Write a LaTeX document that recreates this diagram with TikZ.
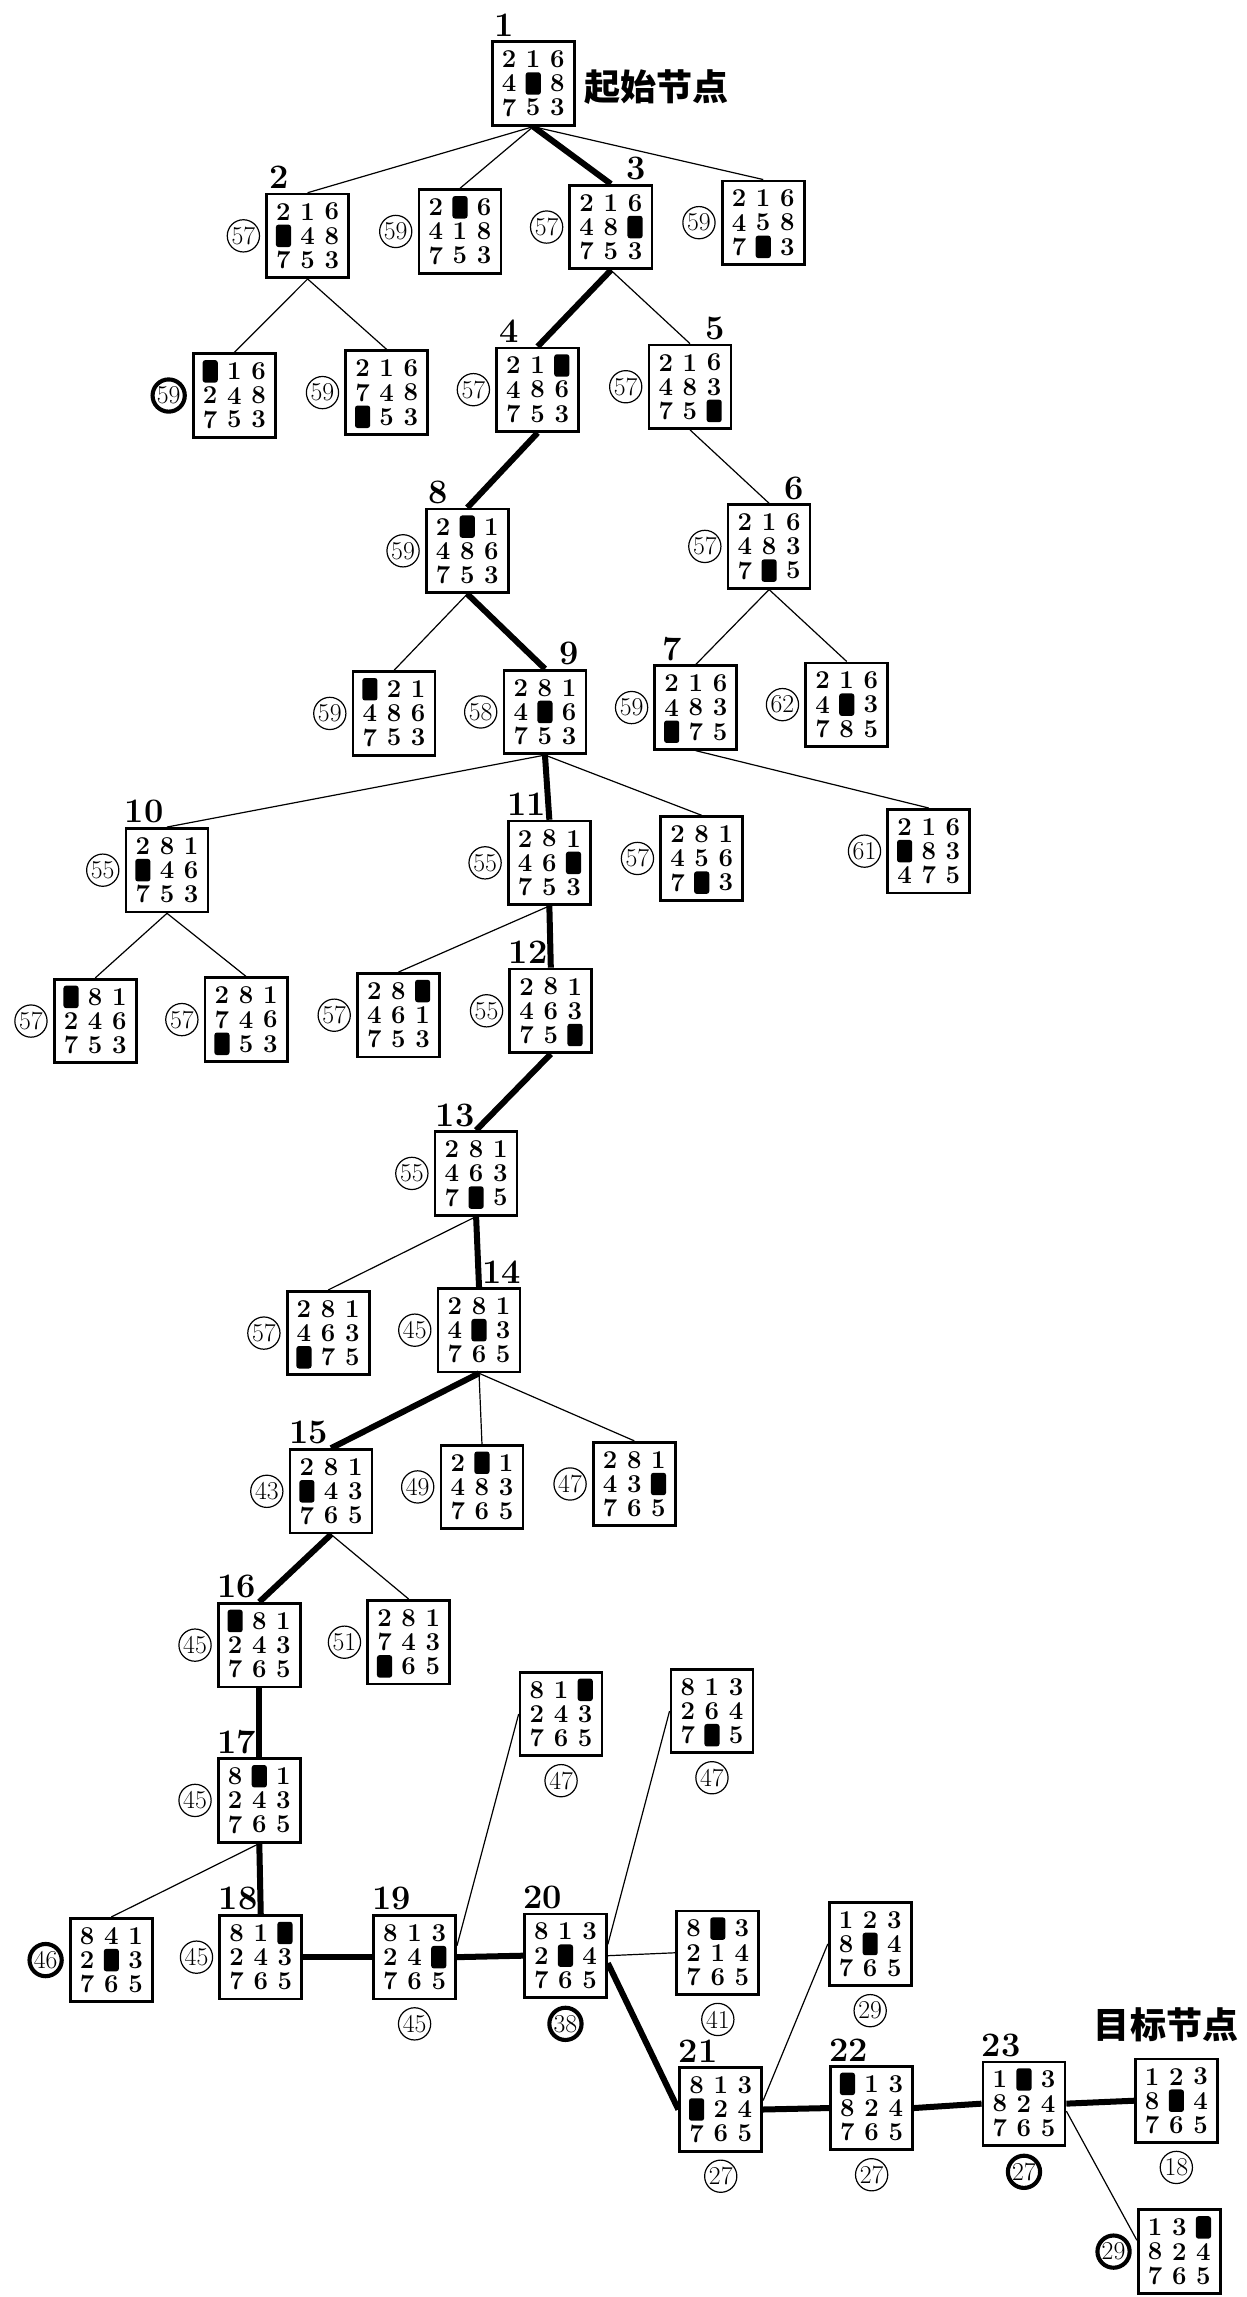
\documentclass[tikz,border=0pt]{standalone}
\usepackage{fontspec}
\newfontfamily\cjk{Noto Sans CJK SC}
\usetikzlibrary{positioning,calc}

\tikzset{
  board/.style={draw, line width=1.6pt, minimum width=1.68cm, minimum height=1.71cm, inner sep=0pt},
  tile/.style={inner sep=0pt, font=\fontsize{15}{15}\selectfont\bfseries},
  blank/.style={fill=black, rounded corners=1.5pt, minimum width=0.31cm, minimum height=0.46cm, inner sep=0pt},
  fval/.style={draw, circle, line width=0.7pt, minimum size=0.66cm, inner sep=0pt, font=\fontsize{15}{15}\selectfont},
  fvaldark/.style={fval, line width=2.4pt},
  numlbl/.style={inner sep=0pt, font=\fontsize{20}{20}\selectfont\bfseries},
  cjklbl/.style={inner sep=0pt, font=\cjk\fontsize{21}{21}\selectfont\bfseries},
  tline/.style={line width=0.7pt},
  pline/.style={line width=3.5pt},
}

% one 8-puzzle state, 0 = blank
\newcommand{\eightboard}[3]{%
  \node[board] (#1) at (#2) {};
  \foreach \tv [count=\i from 0] in {#3} {
    \pgfmathtruncatemacro{\tcol}{mod(\i,3)-1}
    \pgfmathtruncatemacro{\trow}{int(\i/3)-1}
    \ifnum\tv=0
      \node[blank] (#1-\i) at ($(#1.center)+(\tcol*16.5,\trow*16.5)$) {};
    \else
      \node[tile] (#1-\i) at ($(#1.center)+(\tcol*16.5,\trow*16.5)$) {\tv};
    \fi
  }%
}

\begin{document}
\begin{tikzpicture}[x=0.03cm, y=-0.03cm]
  \useasboundingbox (0,0) rectangle (851,1568);

  \eightboard{n1}{364,57}{2,1,6,4,0,8,7,5,3}
  \eightboard{n2}{210,161}{2,1,6,0,4,8,7,5,3}
  \eightboard{b1}{314,158}{2,0,6,4,1,8,7,5,3}
  \eightboard{n3}{417,155}{2,1,6,4,8,0,7,5,3}
  \eightboard{b2}{521,152}{2,1,6,4,5,8,7,0,3}
  \eightboard{a3}{160,270}{0,1,6,2,4,8,7,5,3}
  \eightboard{b3}{264,268}{2,1,6,7,4,8,0,5,3}
  \eightboard{n4}{367,266}{2,1,0,4,8,6,7,5,3}
  \eightboard{n5}{471,264}{2,1,6,4,8,3,7,5,0}
  \eightboard{n8}{319,376}{2,0,1,4,8,6,7,5,3}
  \eightboard{n6}{525,373}{2,1,6,4,8,3,7,0,5}
  \eightboard{a9}{269,487}{0,2,1,4,8,6,7,5,3}
  \eightboard{n9}{372,486}{2,8,1,4,0,6,7,5,3}
  \eightboard{n7}{475,483}{2,1,6,4,8,3,0,7,5}
  \eightboard{c9}{578,481}{2,1,6,4,0,3,7,8,5}
  \eightboard{n10}{114,594}{2,8,1,0,4,6,7,5,3}
  \eightboard{n11}{375,589}{2,8,1,4,6,0,7,5,3}
  \eightboard{c11}{479,586}{2,8,1,4,5,6,7,0,3}
  \eightboard{d11}{634,581}{2,1,6,0,8,3,4,7,5}
  \eightboard{a12}{65,697}{0,8,1,2,4,6,7,5,3}
  \eightboard{b12}{168,696}{2,8,1,7,4,6,0,5,3}
  \eightboard{c12}{272,693}{2,8,0,4,6,1,7,5,3}
  \eightboard{n12}{376,690}{2,8,1,4,6,3,7,5,0}
  \eightboard{n13}{325,801}{2,8,1,4,6,3,7,0,5}
  \eightboard{a14}{224,910}{2,8,1,4,6,3,0,7,5}
  \eightboard{n14}{327,908}{2,8,1,4,0,3,7,6,5}
  \eightboard{n15}{226,1018}{2,8,1,0,4,3,7,6,5}
  \eightboard{b15}{329,1015}{2,0,1,4,8,3,7,6,5}
  \eightboard{c15}{433,1013}{2,8,1,4,3,0,7,6,5}
  \eightboard{n16}{177,1123}{0,8,1,2,4,3,7,6,5}
  \eightboard{b16}{279,1121}{2,8,1,7,4,3,0,6,5}
  \eightboard{e19}{383,1170}{8,1,0,2,4,3,7,6,5}
  \eightboard{f20}{486,1168}{8,1,3,2,6,4,7,0,5}
  \eightboard{n17}{177,1229}{8,0,1,2,4,3,7,6,5}
  \eightboard{a18}{76,1338}{8,4,1,2,0,3,7,6,5}
  \eightboard{n18}{178,1336}{8,1,0,2,4,3,7,6,5}
  \eightboard{n19}{283,1336}{8,1,3,2,4,0,7,6,5}
  \eightboard{n20}{386,1335}{8,1,3,2,0,4,7,6,5}
  \eightboard{g20}{490,1333}{8,0,3,2,1,4,7,6,5}
  \eightboard{h21}{594,1327}{1,2,3,8,0,4,7,6,5}
  \eightboard{n21}{492,1440}{8,1,3,0,2,4,7,6,5}
  \eightboard{n22}{595,1439}{0,1,3,8,2,4,7,6,5}
  \eightboard{n23}{699,1436}{1,0,3,8,2,4,7,6,5}
  \eightboard{goal}{803,1434}{1,2,3,8,0,4,7,6,5}
  \eightboard{last}{805,1537}{1,3,0,8,2,4,7,6,5}

  \node[cjklbl, right=5pt of n1, yshift=-2pt] (startlbl) {起始节点};
  \node[cjklbl, above=9pt of goal, xshift=-6pt] (goallbl) {目标节点};

  \foreach \bn/\txt/\dx in {n1/1/2pt, n2/2/2pt, n4/4/2pt, n8/8/2pt, n7/7/5pt,
      n10/10/0pt, n11/11/0pt, n12/12/0pt, n13/13/1pt, n15/15/0pt, n16/16/0pt,
      n17/17/0pt, n18/18/0pt, n19/19/0pt, n20/20/0pt, n21/21/0pt, n22/22/0pt, n23/23/0pt}
    \node[numlbl, above right=2pt and \dx of \bn.north west] (l\bn) {\txt};
  \foreach \bn/\txt/\dx in {n3/3/4pt, n5/5/4pt, n6/6/4pt, n9/9/5pt, n14/14/0pt}
    \node[numlbl, above left=2pt and \dx of \bn.north east] (l\bn) {\txt};

  \foreach \bn/\val in {n2/57, b1/59, n3/57, b2/59, b3/59, n4/57, n5/57, n8/59, n6/57,
      a9/59, n9/58, n7/59, c9/62, n10/55, n11/55, c11/57, d11/61, a12/57, b12/57,
      c12/57, n12/55, n13/55, a14/57, n14/45, n15/43, b15/49, c15/47, n16/45,
      b16/51, n17/45, n18/45}
    \node[fval, left=3pt of \bn] (v\bn) {\val};
  \foreach \bn/\val in {a3/59, a18/46, last/29}
    \node[fvaldark, left=3pt of \bn] (v\bn) {\val};
  \foreach \bn/\val in {n19/45, e19/47, f20/47, g20/41, h21/29, n21/27, n22/27, goal/18}
    \node[fval, below=4pt of \bn] (v\bn) {\val};
  \foreach \bn/\val in {n20/38, n23/27}
    \node[fvaldark, below=4pt of \bn] (v\bn) {\val};

  \foreach \a/\b in {n1/n2, n1/b1, n1/b2, n2/a3, n2/b3, n3/n5, n5/n6, n8/a9, n6/n7,
      n6/c9, n9/n10, n9/c11, n7/d11, n10/a12, n10/b12, n11/c12, n13/a14, n14/b15,
      n14/c15, n15/b16, n17/a18}
    \draw[tline] (\a.south) -- (\b.north);
  \foreach \a/\b in {n1/n3, n3/n4, n4/n8, n8/n9, n9/n11, n11/n12, n12/n13, n13/n14,
      n14/n15, n15/n16, n16/n17, n17/n18}
    \draw[pline] (\a.south) -- (\b.north);
  \foreach \a/\b in {n18/n19, n19/n20, n21/n22, n22/n23, n23/goal}
    \draw[pline] (\a.east) -- (\b.west);
  \draw[tline] (n19.15) -- (e19.west);
  \draw[tline] (n20.15) -- (f20.west);
  \draw[tline] (n20.east) -- (g20.west);
  \draw[pline] (n20.-10) -- (n21.west);
  \draw[tline] (n21.12) -- (h21.west);
  \draw[tline] (n23.-10) -- (last.165);
\end{tikzpicture}
\end{document}
